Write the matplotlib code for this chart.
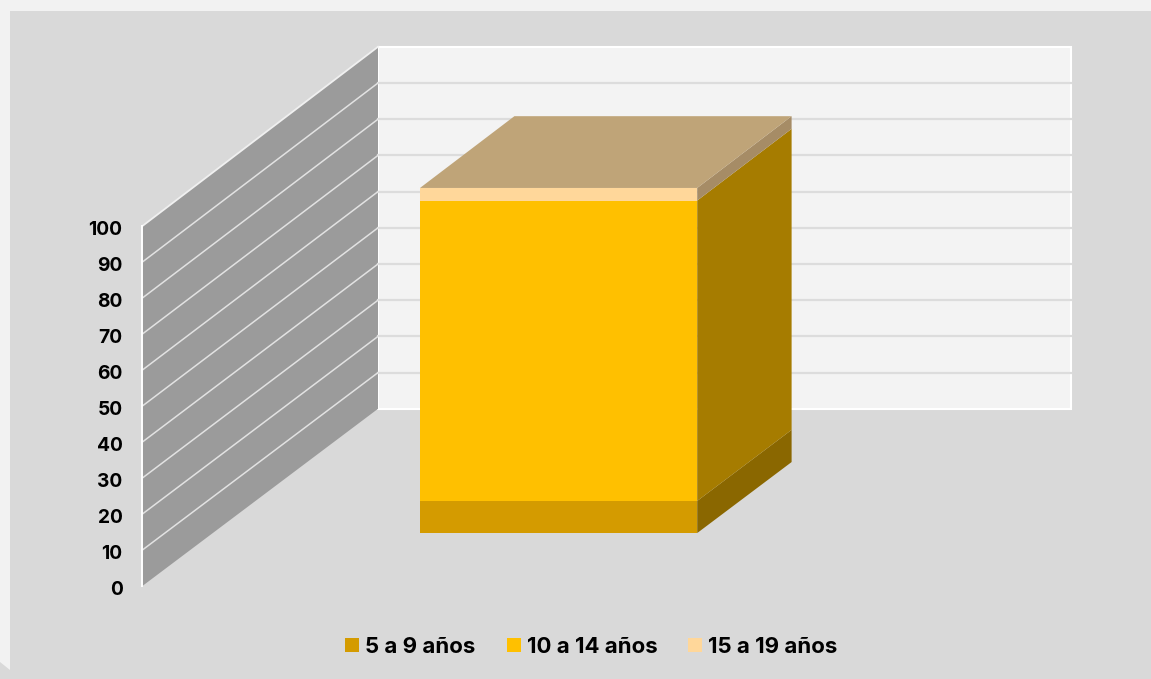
import matplotlib.pyplot as plt
from matplotlib.patches import Polygon, Patch
from matplotlib.transforms import ScaledTranslation

plt.rcParams['font.family'] = ['Inter', 'DejaVu Sans']

series = ['5 a 9 años', '10 a 14 años', '15 a 19 años']
values = [8.9, 83.3, 3.5]
front_colors = ['#d49b00', '#ffc000', '#ffd79a']
side_colors = ['#8a6700', '#a67c00', '#a68c66']
top_color = '#bfa478'
yticks = [0, 10, 20, 30, 40, 50, 60, 70, 80, 90, 100]

W, H = 1151, 679
# front plane of the 3d box in pixels
LEFT, BOTTOM, PW, PH = 142, 586.3, 693, 360
DX = 236 / PW
DY = 177.5 / 3.6


def project(x, d, v):
    # oblique projection: d=0 front of the floor, d=1 back wall
    return x + d * DX, v * (1 + d * 0.0056) + d * DY


def face(ax, pts, color, z=2, **kw):
    xy = [project(*p) for p in pts]
    ax.add_patch(Polygon(xy, closed=True, facecolor=color, edgecolor=kw.pop('edgecolor', 'none'),
                         clip_on=False, zorder=z, **kw))


fig = plt.figure(figsize=(W / 100, H / 100), dpi=100, facecolor='#f2f2f2')
fig.patches.append(Polygon([(10 / W, 1 - 11 / H), (1, 1 - 11 / H), (1, 0), (0, 0), (0, 1 - 662 / H), (10 / W, 1 - 670 / H)],
                           closed=True, transform=fig.transFigure, facecolor='#d9d9d9', edgecolor='none', zorder=-1))
ax = fig.add_axes([LEFT / W, 1 - BOTTOM / H, PW / W, PH / H])
ax.patch.set_alpha(0)
ax.set_xlim(0, 1)
ax.set_ylim(0, 100)
for s in ax.spines.values():
    s.set_visible(False)

# walls
face(ax, [(0, 1, 0), (1, 1, 0), (1, 1, 100), (0, 1, 100)], '#f3f3f3', z=1, edgecolor='white', linewidth=1.5)
face(ax, [(0, 0, 0), (0, 1, 0), (0, 1, 100), (0, 0, 100)], '#9b9b9b', z=1)
for v in yticks[1:-1]:
    x1, y1 = project(0, 1, v)
    x2, y2 = project(1, 1, v)
    ax.plot([x1, x2], [y1, y2], color='#dcdcdc', lw=1.6, clip_on=False, zorder=1.2)
    x0, y0 = project(0, 0, v)
    ax.plot([x0, x1], [y0, y1], color='#e2e2e2', lw=1.1, clip_on=False, zorder=1.2)
x1, y1 = project(0, 1, 100)
ax.plot([0, x1], [100, y1], color='#f0f0f0', lw=1.3, clip_on=False, zorder=1.3)
ax.plot([0, 0], [0, 100], color='white', lw=1.4, clip_on=False, zorder=1.3)

# stacked bar, only one category
x0, x1 = 0.299, 0.699
d0, d1 = 0.3, 0.7
bottom = 0
for val, fc, sc in zip(values, front_colors, side_colors):
    fx, fy = project(x0, d0, bottom)
    top_y = project(x0, d0, bottom + val)[1]
    ax.bar(fx, top_y - fy, width=x1 - x0, bottom=fy, align='edge', color=fc, clip_on=False, zorder=3)
    face(ax, [(x1, d0, bottom), (x1, d1, bottom), (x1, d1, bottom + val), (x1, d0, bottom + val)], sc, z=3)
    bottom += val
face(ax, [(x0, d0, bottom), (x1, d0, bottom), (x1, d1, bottom), (x0, d1, bottom)], top_color, z=3)

ax.set_xticks([])
ax.set_yticks(yticks)
ax.set_yticklabels([str(t) for t in yticks], fontsize=13.8, fontweight='bold', color='black')
ax.tick_params(axis='y', length=0, pad=14)
# labels sit a little below their gridline
shift = ScaledTranslation(0, -1.5 / 72, fig.dpi_scale_trans)
for lab in ax.get_yticklabels():
    lab.set_transform(lab.get_transform() + shift)

handles = [Patch(facecolor=c, edgecolor='none') for c in front_colors]
fig.legend(handles, series, loc='center', bbox_to_anchor=(591.5 / W, 1 - 647 / H), ncol=3, frameon=False,
           prop={'size': 16, 'weight': 'bold'}, handlelength=0.63, handleheight=0.63, handletextpad=0.27,
           columnspacing=1.4, borderpad=0)

fig.savefig('out.png', dpi=100, facecolor=fig.get_facecolor())
